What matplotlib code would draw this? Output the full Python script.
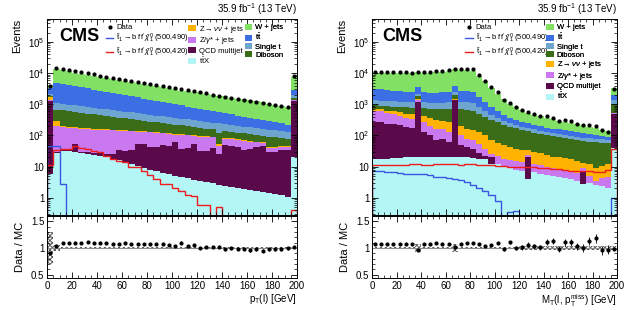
import numpy as np
import matplotlib
matplotlib.use('Agg')
import matplotlib.pyplot as plt
from matplotlib.lines import Line2D
from matplotlib.patches import Patch
from matplotlib.ticker import FixedLocator, FixedFormatter, MultipleLocator, LogLocator, NullFormatter

plt.rcParams['font.family'] = ['Liberation Sans', 'DejaVu Sans']
plt.rcParams['mathtext.fontset'] = 'custom'
plt.rcParams['mathtext.rm'] = 'Liberation Sans'
plt.rcParams['mathtext.it'] = 'Liberation Sans:italic'
plt.rcParams['mathtext.bf'] = 'Liberation Sans:bold'
plt.rcParams['hatch.linewidth'] = 0.7

edges = np.arange(0, 205, 5)
centers = edges[:-1] + 2.5

# ---- left: pT(l) ----
ttx_l = [6, 28, 32, 32, 30, 28, 26, 24, 22, 20, 18, 16, 14, 12, 10.5, 9.1, 7.9, 7.1, 6.3, 5.8,
         5.1, 4.7, 4.2, 3.8, 3.5, 3.2, 2.9, 2.6, 2.4, 2.2, 2.0, 1.9, 1.75, 1.6, 1.5, 1.4, 1.3, 1.2, 1.05, 20]
qcd_l = [1300, 2, 3, 4, 24, 2, 3, 4, 5, 6, 8, 17, 18, 23, 42, 43, 34, 35, 42, 39,
         55, 32, 36, 48, 28, 29, 37, 23, 46, 43, 40, 33, 35, 40, 43, 27, 29, 32, 34, 1300]
zgam_l = [30, 165, 151, 142, 120, 136, 133, 127, 124, 122, 119, 108, 106, 100, 80, 77, 84, 78, 69, 67,
          47, 68, 60, 46, 61, 57, 47, 22, 31, 31, 30, 34, 26, 18, 13, 10, 10, 9, 7, 20]
znn_l = [390, 90, 12, 11, 11, 10, 10, 9, 9, 9, 8, 8, 8, 7, 7, 7, 7, 6, 6, 6,
         6, 5, 5, 5, 5, 5, 5, 4, 4, 4, 4, 4, 3, 3, 3, 3, 3, 3, 3, 15]
vv_l = [100, 391, 440, 412, 382, 359, 333, 312, 289, 267, 246, 228, 210, 193, 177, 162, 148, 139, 127, 118,
        109, 100, 93, 84, 78, 72, 65, 70, 56, 51, 48, 44, 44, 41, 37, 51, 44, 37, 33, 245]
st_l = [360, 420, 396, 375, 354, 335, 316, 299, 282, 266, 252, 238, 224, 213, 201, 190, 179, 170, 160, 151,
        143, 135, 128, 120, 114, 108, 101, 122, 91, 86, 81, 76, 72, 68, 65, 61, 58, 55, 51, 330]
tt_l = [1250, 3804, 3474, 3171, 2894, 2640, 2408, 2196, 2002, 1825, 1663, 1513, 1378, 1254, 1141, 1037, 943, 856, 777, 705,
        640, 580, 525, 476, 430, 388, 351, 317, 286, 257, 231, 209, 187, 168, 150, 135, 120, 106, 95, 870]
w_l = [750, 9180, 7790, 7240, 6620, 6145, 5618, 5284, 4903, 4613, 4343, 4029, 3684, 3467, 3258, 3026, 2803, 2570, 2411, 2266,
       2138, 1848, 1861, 1703, 1690, 1524, 1391, 1312, 1290, 1172, 1089, 1027, 961, 897, 843, 764, 690, 650, 586, 4940]
data_l = [3800, 14500, 13400, 12450, 11450, 10650, 9800, 9100, 8380, 7780, 7170, 6660, 6140, 5700, 5250, 4880, 4490, 4180, 3840, 3570,
          3290, 3060, 2810, 2620, 2400, 2240, 2050, 1920, 1760, 1640, 1500, 1410, 1280, 1210, 1100, 1030, 940, 880, 805, 7850]
sig1_l = [45, 45, 2.8] + [0] * 37
sig2_l = [11, 33, 37, 37, 45, 40, 37, 32, 29, 22, 18, 15.5, 14, 10, 9.5, 7.4, 5.5, 4, 2.8, 2.8,
          2.0, 1.6, 1.2, 1.1, 0.6, 0.6, 0, 0.5, 0, 0, 0, 0, 0, 0, 0, 0, 0, 0, 0, 0.4]
unc_l = [0.30, 0.06] + [0.012] * 38

# ---- right: MT(l, ptmiss) ----
ttx_r = [17, 18, 18, 19, 19, 20, 20, 20, 21, 21, 21, 21, 21, 21, 20, 20, 19, 18, 17, 12,
         12, 10, 9, 8, 7.4, 4, 6.5, 6, 5.5, 5, 4.6, 4.2, 3.9, 3.5, 2.8, 3.0, 2.6, 2.3, 2.1, 40]
qcd_r = [263, 262, 222, 221, 205, 166, 158, 1180, 105, 79, 48, 58, 42, 1329, 28, 22, 18, 10, 5, 8,
         0, 0, 0, 0, 0, 16, 0, 0, 0, 0, 0, 0, 0, 0, 4.6, 0, 0, 0, 0, 460]
zgam_r = [351, 323, 285, 239, 193, 177, 153, 160, 143, 109, 89, 79, 69, 60, 52, 34, 32, 26, 15, 6,
          10, 8, 7, 7, 7, 3, 6, 5, 4.5, 4, 3.7, 3.4, 3.2, 2.8, 1.5, 2, 0.9, 1.9, 2.7, 20]
znn_r = [77, 89, 106, 110, 133, 138, 148, 150, 148, 163, 158, 124, 131, 115, 100, 90, 79, 72, 63, 45,
         36, 31, 28, 23, 20, 12, 18, 16, 14, 12, 12, 11, 10, 8.5, 4.2, 6.7, 5.7, 6.2, 7, 20]
vv_r = [225, 220, 240, 262, 263, 293, 297, 300, 324, 352, 392, 426, 445, 470, 492, 495, 455, 375, 298, 245,
        207, 176, 149, 130, 116, 105, 92, 85, 78, 73, 68, 63, 60, 57, 53, 52, 51, 48, 44, 460]
st_r = [416, 406, 417, 408, 417, 408, 399, 400, 407, 398, 414, 414, 440, 460, 483, 514, 493, 350, 233, 141,
        100, 71, 60, 48, 43, 40, 35, 31, 29, 27, 25, 24, 22, 20, 19, 18, 18, 16, 16, 350]
tt_r = [1813, 1702, 1596, 1495, 1400, 1310, 1280, 1300, 1251, 1222, 1222, 1277, 1364, 1400, 1455, 1455, 1303, 927, 571, 375,
        240, 162, 112, 88, 72, 68, 59, 54, 49, 46, 43, 40, 37, 35, 32, 29, 24, 21, 18, 600]
w_r = [6745, 7128, 7264, 7246, 7277, 7395, 7330, 7668, 7601, 7804, 8188, 8731, 9414, 9370, 10453, 10333, 9693, 6472, 4254, 2549,
       1577, 993, 637, 498, 377, 275, 246, 215, 187, 164, 145, 135, 120, 107, 96, 82, 69, 57, 47, 1274]
data_r = [10700, 10960, 10960, 10700, 10700, 10700, 10470, 10700, 10700, 10960, 11480, 12020, 12880, 13490, 14130, 14130, 13180, 8910, 5620, 3550,
          2400, 1420, 1110, 800, 650, 557, 478, 418, 409, 373, 294, 311, 283, 242, 213, 219, 202, 146, 133, 3160]
sig1_r = [7, 7, 6.6, 6.6, 6.4, 6.0, 5.8, 5.8, 5.6, 5.2, 4.8, 4.6, 4.3, 4.0, 3.6, 3.1, 2.6, 2.0, 1.6, 1.2,
          0.8, 0, 0.36, 0.38] + [0] * 15 + [1.0]
sig2_r = [11, 11, 11.5, 11.5, 11, 11.5, 12, 12, 11.5, 11.5, 12, 12.5, 12, 12, 11.5, 12, 12, 11.5, 11, 11,
          10.5, 10.5, 10, 10, 10, 9.5, 9.5, 9, 9, 8.5, 8.5, 8, 7.5, 7.5, 7, 7, 6.5, 6.5, 8, 38]
unc_r = [0.012] * 7 + [0.08] + [0.012] * 5 + [0.08] + [0.012] * 10 + [0.03] * 16

colors = ['#b4f6f6', '#5a0a4b', '#c978ef', '#ffb300', '#3b6d18', '#6ea5cf', '#3b6fe3', '#82e065']
labels = {'ttx': r'$\mathrm{t\bar{t}X}$', 'qcd': 'QCD multijet', 'zgam': r'Z/$\gamma$* + jets',
          'znn': r'Z$\rightarrow\nu\nu$ + jets', 'vv': 'Diboson', 'st': 'Single t',
          'tt': r'$\mathrm{t\bar{t}}$', 'w': 'W + jets'}
keys = ['ttx', 'qcd', 'zgam', 'znn', 'vv', 'st', 'tt', 'w']
sig1_lab = r'$\tilde{\mathrm{t}}_1 \rightarrow \mathrm{b\,f\,f^{\prime}}\,\tilde{\chi}^0_1$ (500,490)'
sig2_lab = r'$\tilde{\mathrm{t}}_1 \rightarrow \mathrm{b\,f\,f^{\prime}}\,\tilde{\chi}^0_1$ (500,420)'
sig_col = ['#3a55e0', '#ee1c1c']

fig = plt.figure(figsize=(6.39, 3.10), dpi=100)
axes = [
    (fig.add_axes([0.0736, 0.3065, 0.3912, 0.6323]), fig.add_axes([0.0736, 0.1032, 0.3912, 0.2])),
    (fig.add_axes([0.5822, 0.3065, 0.3834, 0.6323]), fig.add_axes([0.5822, 0.1032, 0.3834, 0.2])),
]


def style_ax(ax):
    ax.tick_params(which='both', direction='in', top=True, right=True, labelsize=7, pad=2)
    ax.tick_params(which='major', length=4, width=0.6)
    ax.tick_params(which='minor', length=2, width=0.5)
    for s in ax.spines.values():
        s.set_linewidth(0.7)


def draw(ax, axr, comps, data, s1, s2, unc, xlabel):
    bottom = np.full(40, 1e-3)
    for vals, c in zip(comps, colors):
        top = bottom + np.array(vals, float)
        ax.stairs(top, edges, baseline=bottom, fill=True, color=c, lw=0)
        bottom = top
    mc = bottom
    for s, c in zip([s1, s2], sig_col):
        s = np.array(s, float)
        ax.stairs(np.where(s > 0, s, 1e-3), edges, color=c, lw=1.0)
    data = np.array(data, float)
    ax.errorbar(centers, data, yerr=np.sqrt(data), fmt='o', ms=2.0, color='k', elinewidth=0.6, capsize=0)
    ax.set_yscale('log')
    ax.set_xlim(0, 200)
    ax.set_ylim(0.28, 5.5e5)
    ax.yaxis.set_major_locator(FixedLocator([1, 10, 1e2, 1e3, 1e4, 1e5]))
    ax.yaxis.set_major_formatter(FixedFormatter(['1', '10', '$10^2$', '$10^3$', '$10^4$', '$10^5$']))
    ax.yaxis.set_minor_locator(LogLocator(base=10, subs=np.arange(2, 10), numticks=20))
    ax.yaxis.set_minor_formatter(NullFormatter())
    ax.xaxis.set_major_locator(MultipleLocator(20))
    ax.xaxis.set_minor_locator(MultipleLocator(5))
    ax.set_xticklabels([])
    ax.set_ylabel('Events', loc='top', fontsize=8, labelpad=4)
    style_ax(ax)
    ax.text(1.0, 1.012, r'35.9 fb$^{-1}$ (13 TeV)', transform=ax.transAxes, ha='right', va='bottom', fontsize=7)

    unc = np.array(unc)
    ratio = data / mc
    err = np.sqrt(data) / mc
    axr.bar(centers, 2 * unc, bottom=1 - unc, width=5, color='none', hatch='xxxxxxx', edgecolor='0.35', lw=0)
    axr.axhline(1, color='0.55', lw=0.8)
    axr.errorbar(centers, ratio, yerr=err, fmt='o', ms=2.0, color='k', elinewidth=0.6, capsize=0)
    axr.set_xlim(0, 200)
    axr.set_ylim(0.44, 1.6)
    axr.yaxis.set_major_locator(FixedLocator([0.5, 1, 1.5]))
    axr.yaxis.set_major_formatter(FixedFormatter(['0.5', '1', '1.5']))
    axr.yaxis.set_minor_locator(MultipleLocator(0.1))
    axr.xaxis.set_major_locator(MultipleLocator(20))
    axr.xaxis.set_minor_locator(MultipleLocator(5))
    axr.set_ylabel('Data / MC', fontsize=8, labelpad=4)
    axr.set_xlabel(xlabel, loc='right', fontsize=7, labelpad=1)
    style_ax(axr)


comps_l = [ttx_l, qcd_l, zgam_l, znn_l, vv_l, st_l, tt_l, w_l]
comps_r = [ttx_r, qcd_r, zgam_r, znn_r, vv_r, st_r, tt_r, w_r]
draw(axes[0][0], axes[0][1], comps_l, data_l, sig1_l, sig2_l, unc_l, r'p$_\mathrm{T}$(l) [GeV]')
draw(axes[1][0], axes[1][1], comps_r, data_r, sig1_r, sig2_r, unc_r,
     r'M$_\mathrm{T}$(l, p$_\mathrm{T}^\mathrm{miss}$) [GeV]')

col = dict(zip(keys, colors))
h_data = Line2D([], [], marker='o', ms=2.0, color='k', ls='none')
h_s1 = Line2D([], [], color=sig_col[0], lw=1.0)
h_s2 = Line2D([], [], color=sig_col[1], lw=1.0)
leg_kw = dict(frameon=False, fontsize=5.5, handlelength=1.0, handleheight=0.8, labelspacing=0.08,
              borderpad=0, handletextpad=0.4, borderaxespad=0, loc='upper left')


def patches(ks):
    return [Patch(color=col[k], lw=0) for k in ks], [labels[k] for k in ks]


for ax, groups in [(axes[0][0], [(0.235, None), (0.565, ['znn', 'zgam', 'qcd', 'ttx']), (0.79, ['w', 'tt', 'st', 'vv'])]),
                   (axes[1][0], [(0.38, None), (0.71, ['w', 'tt', 'st', 'vv', 'znn', 'zgam', 'qcd', 'ttx'])])]:
    for x0, ks in groups:
        if ks is None:
            h, l = [h_data, h_s1, h_s2], ['Data', sig1_lab, sig2_lab]
        else:
            h, l = patches(ks)
        lg = ax.legend(h, l, bbox_to_anchor=(x0, 0.975), **leg_kw)
        ax.add_artist(lg)

axes[0][0].text(0.05, 0.955, 'CMS', transform=axes[0][0].transAxes, fontsize=13, fontweight='bold', va='top')
axes[1][0].text(0.04, 0.955, 'CMS', transform=axes[1][0].transAxes, fontsize=13, fontweight='bold', va='top')

fig.savefig('out.png', dpi=100)
